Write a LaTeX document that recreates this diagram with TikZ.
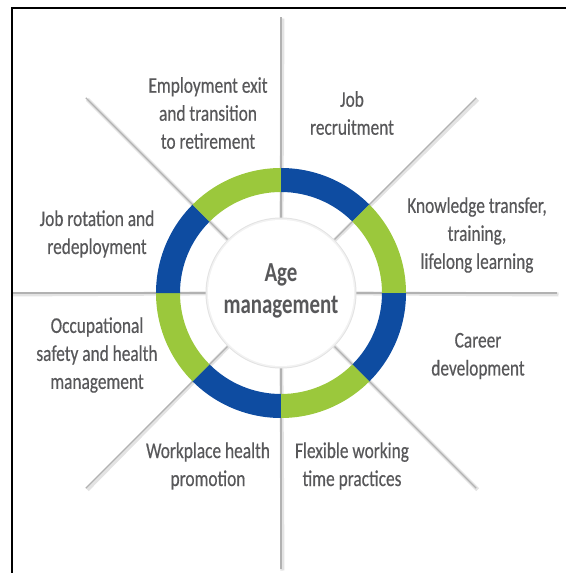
\documentclass[tikz,border=0pt]{standalone}
\usepackage{fontspec}
\setmainfont{Carlito}[FakeStretch=0.77, FakeBold=0.4]
\newfontfamily\hubfont{Carlito}[FakeStretch=0.76]
\usetikzlibrary{calc}
\definecolor{ringblue}{RGB}{14,76,161}
\definecolor{ringgreen}{RGB}{155,200,60}
\definecolor{labelgray}{RGB}{88,88,90}
\tikzset{
    spoke/.style = {draw=gray!60, line width=1.4pt},
    spokeshadow/.style = {draw=gray!22, line width=4pt},
    field/.style = {align=center, text=labelgray,
        font=\fontsize{22.5}{28}\selectfont},
    hub/.style = {align=center, text=labelgray,
        font=\hubfont\bfseries\fontsize{27.5}{32}\selectfont}
}

\begin{document}
\begin{tikzpicture}[x=1pt, y=1pt]
        \useasboundingbox (-281,-280) rectangle (284,293);
        \coordinate (c) at (0,0);
        \begin{scope}
        \clip (-269,-280) rectangle (284,285);
        % spokes with a soft shadow
        \foreach \a in {0,45,...,315} {
            \draw [spokeshadow, shift={(1.5,-1.5)}] (c) -- (\a:276pt);
            \draw [spoke] (c) -- (\a:276pt);
        }
        \end{scope}
        % ring
        \foreach \a/\col in {45/ringblue, 0/ringgreen, -45/ringblue, -90/ringgreen,
                             -135/ringblue, 180/ringgreen, 135/ringblue, 90/ringgreen} {
            \fill [\col] (\a:125pt) arc (\a:\a+45:125pt) -- (\a+45:101pt) arc (\a+45:\a:101pt) -- cycle;
        }
        \fill [gray!22] (c) circle (75.5pt);
        \fill [gray!10] (c) circle (74.5pt);
        \fill [white] (c) circle (73pt);
        \node [hub] (age) at (0,2) {Age\\management};
        \node [field] (exit) at (-73,180) {Employment exit\\and transition\\to retirement};
        \node [field] (recruit) at (71,180) {Job\\recruitment};
        \node [field] (know) at (196,58) {Knowledge transfer,\\training,\\lifelong learning};
        \node [field] (career) at (197,-63) {Career\\development};
        \node [field] (flex) at (71,-173) {Flexible working\\time practices};
        \node [field] (health) at (-73,-173) {Workplace health\\promotion};
        \node [field] (safety) at (-184,-62) {Occupational\\safety and health\\management};
        \node [field] (rotate) at (-184,59) {Job rotation and\\redeployment};
        % frame, cut by the page on two sides
        \draw [line width=2pt] (-269,-290) -- (-269,285) -- (300,285);
\end{tikzpicture}
\end{document}
